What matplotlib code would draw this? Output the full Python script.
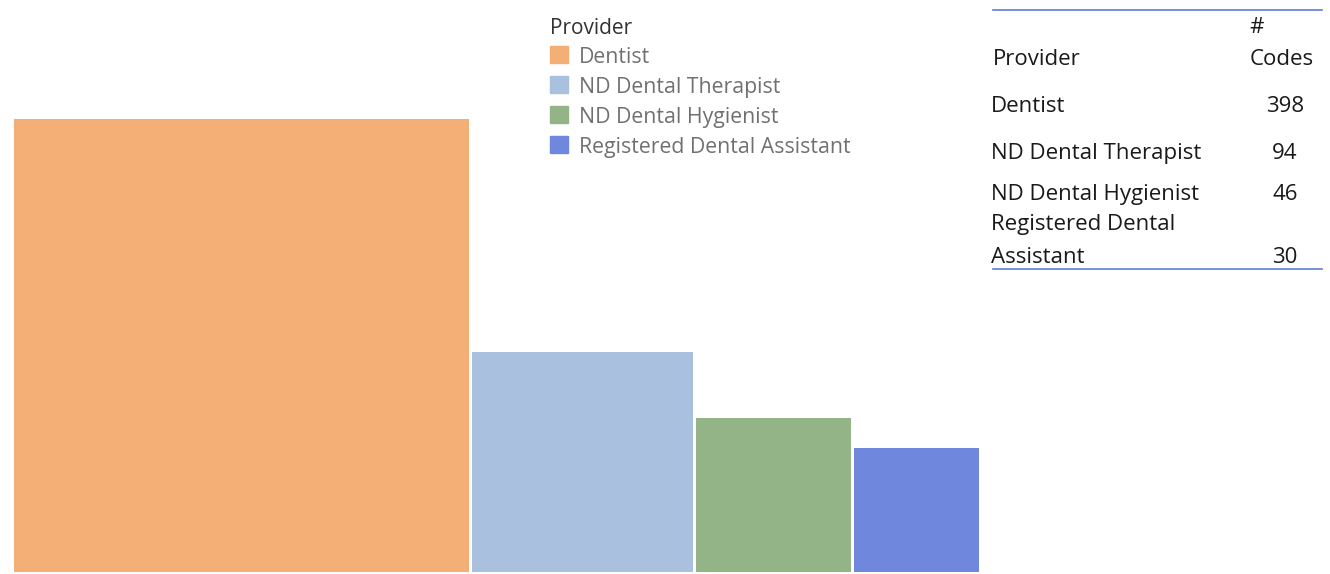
import matplotlib
matplotlib.use("Agg")
import numpy as np
import matplotlib.pyplot as plt
from matplotlib.patches import Rectangle
from matplotlib.lines import Line2D

# ─── Datos ────────────────────────────────────────────────────────────────────
providers = ["Dentist", "ND Dental Therapist", "ND Dental Hygienist",
             "Registered Dental Assistant"]
table_names = ["Dentist", "ND Dental Therapist", "ND Dental Hygienist",
               "Registered Dental\nAssistant"]
codes = [398, 94, 46, 30]
colors = ["#F4AF76", "#AAC0DF", "#93B486", "#6F88DD"]

plt.rcParams["font.family"] = ["Open Sans", "DejaVu Sans"]

fig = plt.figure(figsize=(13.3, 5.74), dpi=100)
fig.patch.set_facecolor("white")
W, H = 1330, 574


def fy(y):
    return 1 - y / H


# ─── Cuadrados proporcionales (área = nº de códigos) ──────────────────────────
ax = fig.add_axes([0, 0, 1, 1])
side = np.sqrt(codes)
gap = 0.13
lefts = np.concatenate([[0], np.cumsum(side[:-1] + gap)])
ax.bar(lefts, side, width=side, align="edge", color=colors, linewidth=0)
sx, sy = 22.82, 22.7  # px por unidad
ax.set_xlim(-14 / sx, (W - 14) / sx)
ax.set_ylim(-2 / sy, (H - 2) / sy)
ax.axis("off")

# ─── Leyenda ──────────────────────────────────────────────────────────────────
fig.text(550 / W, fy(34), "Provider", fontsize=15, color="#333333",
         va="baseline", ha="left")
for i, (p, c) in enumerate(zip(providers, colors)):
    base = 63 + i * 30
    fig.patches.append(Rectangle((550 / W, fy(base)), 18 / W, 16.5 / H,
                                 transform=fig.transFigure, color=c,
                                 figure=fig))
    fig.text(579 / W, fy(base), p, fontsize=15.3, color="#707070",
             va="baseline", ha="left")

# ─── Tabla ────────────────────────────────────────────────────────────────────
tcol = "#1a1a1a"
lcol = "#5B7FD0"
fig.lines.append(Line2D([993 / W, 1322 / W], [fy(10), fy(10)],
                        transform=fig.transFigure, color=lcol, lw=1.2))
fig.lines.append(Line2D([993 / W, 1322 / W], [fy(269), fy(269)],
                        transform=fig.transFigure, color=lcol, lw=1.2))
fs = 16
fig.text(1257 / W, fy(33), "#", fontsize=fs, color=tcol,
         va="baseline", ha="center")
fig.text(993 / W, fy(65), "Provider", fontsize=fs, color=tcol,
         va="baseline", ha="left")
fig.text(1314 / W, fy(65), "Codes", fontsize=fs, color=tcol,
         va="baseline", ha="right")
row_base = [112, 159, 200, 230]
for name, n, yb in zip(table_names, codes, row_base):
    lines = name.split("\n")
    for k, ln in enumerate(lines):
        fig.text(991 / W, fy(yb + k * 33), ln, fontsize=fs, color=tcol,
                 va="baseline", ha="left")
    yn = yb + (len(lines) - 1) * 33
    fig.text(1285 / W, fy(yn), str(n), fontsize=fs, color=tcol,
             va="baseline", ha="center")

fig.savefig("out.png", dpi=100, facecolor="white")
